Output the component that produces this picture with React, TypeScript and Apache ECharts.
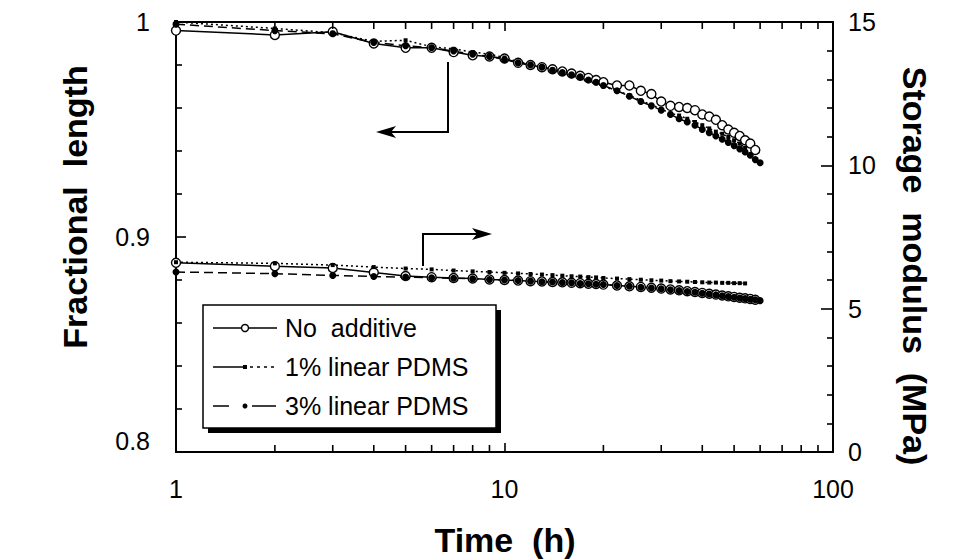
import React, { useEffect, useRef } from "react";
import * as echarts from "echarts";

// ---- data ----
const timeNoAdd = [1, 2, 3, 4, 5, 6, 7, 8, 9, 10, 11, 12, 13, 14, 15, 16, 17, 18, 19, 20, 22, 24, 26, 28, 30, 32, 34, 36, 38, 40, 42, 44, 46, 48, 50, 52, 54, 56, 58];
const noAddLength = [0.996, 0.994, 0.9955, 0.99, 0.988, 0.988, 0.986, 0.9845, 0.984, 0.983, 0.981, 0.98, 0.979, 0.978, 0.977, 0.976, 0.975, 0.974, 0.973, 0.972, 0.9705, 0.9705, 0.968, 0.9665, 0.963, 0.961, 0.9605, 0.96, 0.959, 0.957, 0.956, 0.9545, 0.952, 0.95, 0.9485, 0.947, 0.945, 0.9435, 0.9405];
const noAddModulus = [6.6, 6.48, 6.42, 6.26, 6.14, 6.1, 6.07, 6.05, 6.02, 6.0, 5.98, 5.96, 5.95, 5.93, 5.92, 5.9, 5.89, 5.87, 5.86, 5.84, 5.81, 5.78, 5.76, 5.73, 5.7, 5.67, 5.64, 5.61, 5.58, 5.55, 5.52, 5.49, 5.46, 5.43, 5.41, 5.38, 5.36, 5.34, 5.31];

const timePdms1 = [1, 2, 3, 4, 5, 6, 7, 8, 9, 10, 11, 12, 13, 14, 15, 16, 17, 18, 19, 20, 22, 24, 26, 28, 30, 32, 34, 36, 38, 40, 42, 44, 46, 48, 50, 52, 54];
const pdms1Length = [1.0, 0.997, 0.995, 0.991, 0.9915, 0.9885, 0.9875, 0.986, 0.985, 0.9835, 0.9815, 0.9805, 0.979, 0.978, 0.9765, 0.9755, 0.974, 0.973, 0.9715, 0.97, 0.968, 0.966, 0.9635, 0.9615, 0.9595, 0.9575, 0.9565, 0.955, 0.9535, 0.952, 0.9505, 0.949, 0.948, 0.9465, 0.945, 0.9435, 0.9415];
const pdms1Modulus = [6.62, 6.58, 6.52, 6.45, 6.4, 6.37, 6.33, 6.3, 6.28, 6.25, 6.23, 6.21, 6.19, 6.17, 6.15, 6.13, 6.12, 6.1, 6.09, 6.07, 6.05, 6.03, 6.01, 5.99, 5.98, 5.96, 5.95, 5.94, 5.93, 5.92, 5.91, 5.91, 5.9, 5.9, 5.89, 5.89, 5.88];

const timePdms3 = [1, 2, 3, 4, 5, 6, 7, 8, 9, 10, 11, 12, 13, 14, 15, 16, 17, 18, 19, 20, 22, 24, 26, 28, 30, 32, 34, 36, 38, 40, 42, 44, 46, 48, 50, 52, 54, 56, 58, 60];
const pdms3Length = [0.999, 0.996, 0.9945, 0.9905, 0.989, 0.988, 0.9865, 0.985, 0.984, 0.9825, 0.981, 0.98, 0.979, 0.9775, 0.9765, 0.9755, 0.9745, 0.973, 0.972, 0.9705, 0.968, 0.9655, 0.963, 0.961, 0.959, 0.957, 0.955, 0.9535, 0.952, 0.95, 0.9485, 0.947, 0.9455, 0.944, 0.9425, 0.941, 0.9395, 0.938, 0.936, 0.9345];
const pdms3Modulus = [6.28, 6.22, 6.16, 6.12, 6.1, 6.08, 6.06, 6.04, 6.02, 6.0, 5.98, 5.96, 5.94, 5.93, 5.91, 5.9, 5.88, 5.87, 5.85, 5.84, 5.81, 5.78, 5.75, 5.72, 5.69, 5.66, 5.63, 5.6, 5.57, 5.54, 5.51, 5.48, 5.45, 5.42, 5.4, 5.37, 5.35, 5.33, 5.31, 5.28];

// minor tick positions of the log time axis
const xMinorTicks = [2, 3, 4, 5, 6, 7, 8, 9, 20, 30, 40, 50, 60, 70, 80, 90];

const seriesNames = ["No  additive", "1% linear PDMS", "3% linear PDMS"];
const xTitle = "Time  (h)";
const yLeftTitle = "Fractional  length";
const yRightTitle = "Storage  modulus  (MPa)";

const FONT = "'Liberation Sans', Arial, Helvetica, sans-serif";

export default function App() {
  const ref = useRef<HTMLDivElement>(null);

  useEffect(() => {
    if (!ref.current) return;
    const chart = echarts.init(ref.current, null, { renderer: "svg" });
    const pair = (t: number[], v: number[]) => t.map((x, i) => [x, v[i]]);
    const black = "#000000";
    const mkAxisLine = () => ({ show: true, lineStyle: { color: black, width: 2 } });
    const mkTick = (len: number) => ({ show: true, inside: true, length: len, lineStyle: { color: black, width: 1.6 } });
    const mkMinor = (len: number) => ({ show: true, splitNumber: 5, length: len, lineStyle: { color: black, width: 1.6 } });

    const openCircle = () => ({
      symbol: "circle",
      symbolSize: 9,
      itemStyle: { color: "#fff", borderColor: black, borderWidth: 1.4 },
    });
    const pdms1Sym = () => ({ symbol: "rect", symbolSize: 4, itemStyle: { color: black } });
    const pdms3Sym = () => ({ symbol: "circle", symbolSize: 7, itemStyle: { color: black } });

    const mkLine = (name: string, data: number[][], yIdx: number, sym: any, type: any) => ({
      name,
      type: "line",
      xAxisIndex: 0,
      yAxisIndex: yIdx,
      data,
      showSymbol: true,
      ...sym,
      lineStyle: { color: black, width: 1.5, type },
      z: 3,
    });

    const txt = (text: string, x: number, y: number, font: string, extra: any = {}) => ({
      type: "text",
      x,
      y,
      ...extra,
      style: {
        text,
        font,
        fill: black,
        align: extra.align || "left",
        verticalAlign: "middle",
        textAlign: extra.align || "left",
        textVerticalAlign: "middle",
      },
    });

    const labelFont = () => ({ color: black, fontSize: 25, fontFamily: FONT });
    const legendRows = [328, 367, 406];

    const option: any = {
      animation: false,
      backgroundColor: "#fff",
      grid: { left: 176, right: 125, top: 22, bottom: 108, containLabel: false },
      xAxis: [
        {
          type: "log",
          logBase: 10,
          min: 1,
          max: 100,
          position: "bottom",
          axisLine: mkAxisLine(),
          axisTick: mkTick(9),
          minorTick: { show: false },
          splitLine: { show: false },
          axisLabel: { ...labelFont(), margin: 24 },
        },
        {
          type: "log",
          logBase: 10,
          min: 1,
          max: 100,
          position: "top",
          axisLine: mkAxisLine(),
          axisTick: mkTick(9),
          minorTick: { show: false },
          splitLine: { show: false },
          axisLabel: { show: false },
        },
      ],
      yAxis: [
        {
          type: "value",
          min: 0.8,
          max: 1,
          interval: 0.1,
          position: "left",
          axisLine: mkAxisLine(),
          axisTick: mkTick(10),
          minorTick: mkMinor(6),
          splitLine: { show: false },
          axisLabel: {
            ...labelFont(),
            margin: 26,
            formatter: (v: number) =>
              Math.abs(v - 1) < 1e-9 ? "1" : Math.abs(v - 0.8) < 1e-9 ? "{low|0.8}" : v.toFixed(1),
            rich: { low: { ...labelFont(), padding: [0, 0, 22, 0] } },
          },
        },
        {
          type: "value",
          min: 0,
          max: 15,
          interval: 5,
          position: "right",
          axisLine: mkAxisLine(),
          axisTick: mkTick(12),
          minorTick: mkMinor(6),
          splitLine: { show: false },
          axisLabel: { ...labelFont(), margin: 15 },
        },
      ],
      series: [
        mkLine(seriesNames[0], pair(timeNoAdd, noAddLength), 0, openCircle(), "solid"),
        mkLine(seriesNames[1], pair(timePdms1, pdms1Length), 0, pdms1Sym(), [2, 3]),
        mkLine(seriesNames[2], pair(timePdms3, pdms3Length), 0, pdms3Sym(), [9, 5]),
        mkLine(seriesNames[0], pair(timeNoAdd, noAddModulus), 1, openCircle(), "solid"),
        mkLine(seriesNames[1], pair(timePdms1, pdms1Modulus), 1, pdms1Sym(), [2, 3]),
        mkLine(seriesNames[2], pair(timePdms3, pdms3Modulus), 1, pdms3Sym(), [9, 5]),
        {
          type: "custom",
          xAxisIndex: 0,
          yAxisIndex: 0,
          data: xMinorTicks.map((t) => [t, 0.9]),
          z: 4,
          renderItem: (p: any, api: any) => {
            const t = api.value(0);
            const b = api.coord([t, 0.8]);
            const tp = api.coord([t, 1.0]);
            return {
              type: "group",
              children: [
                { type: "line", shape: { x1: b[0], y1: b[1], x2: b[0], y2: b[1] - 7 }, style: { stroke: black, lineWidth: 1.6 } },
                { type: "line", shape: { x1: tp[0], y1: tp[1], x2: tp[0], y2: tp[1] + 7 }, style: { stroke: black, lineWidth: 1.6 } },
              ],
            };
          },
        },
      ],
      graphic: [
        // axis titles
        txt(xTitle, 505, 540, `bold 34px ${FONT}`, { align: "center" }),
        txt(yLeftTitle, 75, 207, `bold 34px ${FONT}`, { align: "center", rotation: Math.PI / 2 }),
        txt(yRightTitle, 915, 266, `bold 34px ${FONT}`, { align: "center", rotation: -Math.PI / 2 }),
        // arrow pointing to the left axis
        { type: "polyline", shape: { points: [[448, 62], [448, 132], [390, 132]] }, style: { stroke: black, lineWidth: 2, fill: null } },
        { type: "polygon", shape: { points: [[376, 132], [396, 126], [391, 132], [396, 138]] }, style: { fill: black } },
        // arrow pointing to the right axis
        { type: "polyline", shape: { points: [[423, 266], [423, 234], [478, 234]] }, style: { stroke: black, lineWidth: 2, fill: null } },
        { type: "polygon", shape: { points: [[492, 234], [472, 228], [477, 234], [472, 240]] }, style: { fill: black } },
        // legend box with shadow
        { type: "rect", shape: { x: 208, y: 310, width: 293, height: 123 }, style: { fill: black } },
        { type: "rect", shape: { x: 203, y: 305, width: 293, height: 123 }, style: { fill: "#fff", stroke: black, lineWidth: 1.5 } },
        // row 1
        { type: "line", shape: { x1: 213, y1: legendRows[0], x2: 277, y2: legendRows[0] }, style: { stroke: black, lineWidth: 1.5 } },
        { type: "circle", shape: { cx: 245, cy: legendRows[0], r: 3.5 }, style: { fill: "#fff", stroke: black, lineWidth: 1.4 } },
        txt(seriesNames[0], 285, legendRows[0], `25px ${FONT}`),
        // row 2
        { type: "line", shape: { x1: 213, y1: legendRows[1], x2: 243, y2: legendRows[1] }, style: { stroke: black, lineWidth: 1.5 } },
        { type: "rect", shape: { x: 243, y: legendRows[1] - 2, width: 4, height: 4 }, style: { fill: black } },
        { type: "line", shape: { x1: 250, y1: legendRows[1], x2: 278, y2: legendRows[1] }, style: { stroke: black, lineWidth: 1.5, lineDash: [3, 4] } },
        txt(seriesNames[1], 285, legendRows[1], `25px ${FONT}`),
        // row 3
        { type: "line", shape: { x1: 213, y1: legendRows[2], x2: 229, y2: legendRows[2] }, style: { stroke: black, lineWidth: 1.5 } },
        { type: "circle", shape: { cx: 245, cy: legendRows[2], r: 2.5 }, style: { fill: black } },
        { type: "line", shape: { x1: 252, y1: legendRows[2], x2: 276, y2: legendRows[2] }, style: { stroke: black, lineWidth: 1.5 } },
        txt(seriesNames[2], 285, legendRows[2], `25px ${FONT}`),
      ],
    };

    chart.setOption(option);
    return () => chart.dispose();
  }, []);

  return (
    <div
      ref={ref}
      style={{ position: "absolute", left: 0, top: 0, width: 958, height: 560, background: "#fff" }}
    />
  );
}
